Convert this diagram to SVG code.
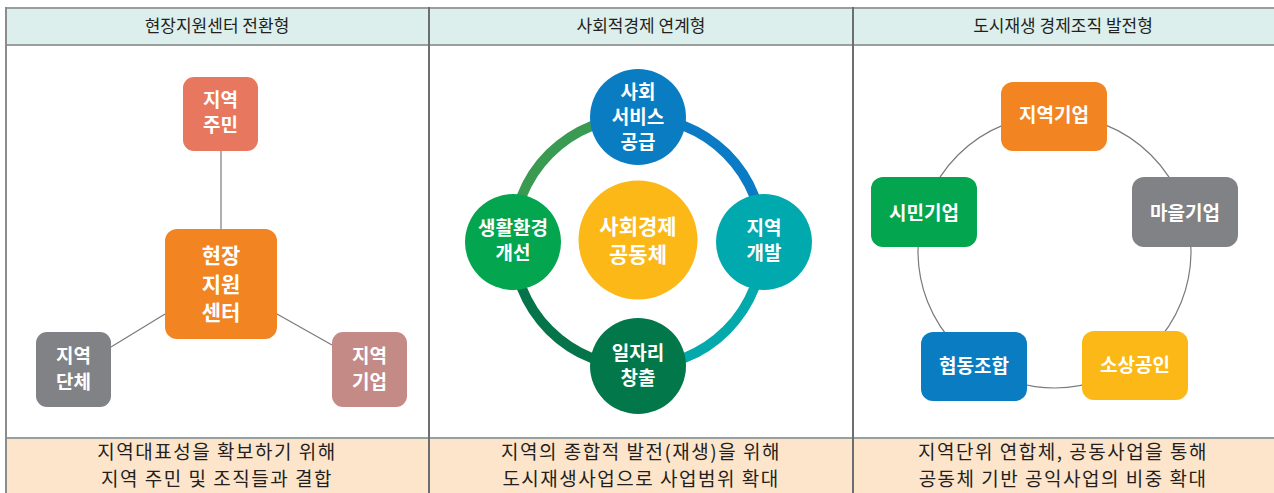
<svg xmlns="http://www.w3.org/2000/svg" width="1274" height="493" viewBox="0 0 1274 493">
<style>
.hdr{font-family:"Noto Sans CJK KR","Noto Sans",sans-serif;font-size:17px;fill:#231f20;text-anchor:middle}
.ftr{font-family:"Noto Sans CJK KR","Noto Sans",sans-serif;font-size:19px;letter-spacing:1.5px;fill:#231f20;text-anchor:middle}
.nt{font-family:"Noto Sans CJK KR","Noto Sans",sans-serif;font-size:19px;font-weight:bold;fill:#fff;text-anchor:middle}
.nt2{font-family:"Noto Sans CJK KR","Noto Sans",sans-serif;font-size:21px;font-weight:bold;fill:#fff;text-anchor:middle}
.conn{stroke:#7a7a7a;stroke-width:1.2;fill:none}
.ring{stroke-width:10;fill:none}
</style>
<rect x="0" y="0" width="1274" height="493" fill="#fff"/>
<g id="table">
<rect x="6" y="8" width="1270" height="37" fill="#dcefec"/>
<rect x="6" y="438" width="1270" height="60" fill="#fde5cb"/>
<line x1="6" y1="8" x2="1274" y2="8" stroke="#98a09e" stroke-width="2"/>
<line x1="6" y1="45" x2="1274" y2="45" stroke="#98a09e" stroke-width="2"/>
<line x1="6" y1="438" x2="1274" y2="438" stroke="#98a09e" stroke-width="2"/>
<line x1="6" y1="7" x2="6" y2="493" stroke="#8a8c8e" stroke-width="2"/>
<line x1="429" y1="7" x2="429" y2="493" stroke="#6d6e71" stroke-width="2"/>
<line x1="853" y1="7" x2="853" y2="493" stroke="#6d6e71" stroke-width="2"/>
<text class="hdr" x="217" y="32">현장지원센터 전환형</text>
<text class="hdr" x="641" y="32">사회적경제 연계형</text>
<text class="hdr" x="1063" y="32">도시재생 경제조직 발전형</text>
<text class="ftr" x="217" y="459">지역대표성을 확보하기 위해</text>
<text class="ftr" x="217" y="486">지역 주민 및 조직들과 결합</text>
<text class="ftr" x="641" y="459">지역의 종합적 발전(재생)을 위해</text>
<text class="ftr" x="641" y="486">도시재생사업으로 사업범위 확대</text>
<text class="ftr" x="1063" y="459">지역단위 연합체, 공동사업을 통해</text>
<text class="ftr" x="1063" y="486">공동체 기반 공익사업의 비중 확대</text>
</g>
<g id="connectors">
<line class="conn" x1="221" y1="151" x2="221" y2="229"/>
<line class="conn" x1="111" y1="347" x2="165" y2="314"/>
<line class="conn" x1="277" y1="314" x2="332" y2="345"/>
<path class="ring" stroke="#3a9a52" d="M513,242 A125,125 0 0 1 638,117"/>
<path class="ring" stroke="#0a7bc4" d="M638,117 A125,125 0 0 1 763,242"/>
<path class="ring" stroke="#03a9ab" d="M763,242 A125,125 0 0 1 638,367"/>
<path class="ring" stroke="#06744a" d="M638,367 A125,125 0 0 1 513,242"/>
<circle class="conn" cx="1054.5" cy="251.5" r="136.5"/>
</g>
<g id="n-jumin"><rect x="183" y="77" width="75" height="74" rx="11" fill="#e8775f"/><text class="nt" x="220.5" y="107">지역</text><text class="nt" x="220.5" y="132">주민</text></g>
<g id="n-center"><rect x="165" y="229" width="112" height="110" rx="12" fill="#f28422"/><text class="nt2" x="221" y="263">현장</text><text class="nt2" x="221" y="292">지원</text><text class="nt2" x="221" y="320">센터</text></g>
<g id="n-danche"><rect x="36" y="332" width="75" height="75" rx="11" fill="#808285"/><text class="nt" x="73.5" y="363">지역</text><text class="nt" x="73.5" y="389">단체</text></g>
<g id="n-giup"><rect x="332" y="332" width="75" height="75" rx="11" fill="#c48a86"/><text class="nt" x="369.5" y="363">지역</text><text class="nt" x="369.5" y="389">기업</text></g>
<g id="m-top"><circle cx="638" cy="117" r="48" fill="#0a7dc2"/><text class="nt" x="638" y="99">사회</text><text class="nt" x="638" y="124">서비스</text><text class="nt" x="638" y="149">공급</text></g>
<g id="m-right"><circle cx="764" cy="242" r="48" fill="#00a9ad"/><text class="nt" x="764" y="235">지역</text><text class="nt" x="764" y="260">개발</text></g>
<g id="m-bottom"><circle cx="638" cy="366" r="48" fill="#02784a"/><text class="nt" x="638" y="360">일자리</text><text class="nt" x="638" y="385">창출</text></g>
<g id="m-left"><circle cx="513" cy="242" r="48" fill="#03a54f"/><text class="nt" x="513" y="235">생활환경</text><text class="nt" x="513" y="260">개선</text></g>
<g id="m-center"><circle cx="638" cy="240" r="59.5" fill="#fbb817"/><text class="nt2" x="638" y="234">사회경제</text><text class="nt2" x="638" y="262">공동체</text></g>
<g id="r-jiyeok"><rect x="1001" y="82" width="106" height="69" rx="12" fill="#f28422"/><text class="nt" x="1054" y="122">지역기업</text></g>
<g id="r-simin"><rect x="871" y="177" width="106" height="70" rx="12" fill="#03a54f"/><text class="nt" x="924" y="220">시민기업</text></g>
<g id="r-maeul"><rect x="1132" y="177" width="106" height="70" rx="12" fill="#808285"/><text class="nt" x="1185" y="220">마을기업</text></g>
<g id="r-hyeopdong"><rect x="921" y="332" width="106" height="69" rx="12" fill="#0a7dc2"/><text class="nt" x="974" y="373">협동조합</text></g>
<g id="r-sosang"><rect x="1082" y="331" width="106" height="69" rx="12" fill="#fbb817"/><text class="nt" x="1135" y="372">소상공인</text></g>
</svg>
